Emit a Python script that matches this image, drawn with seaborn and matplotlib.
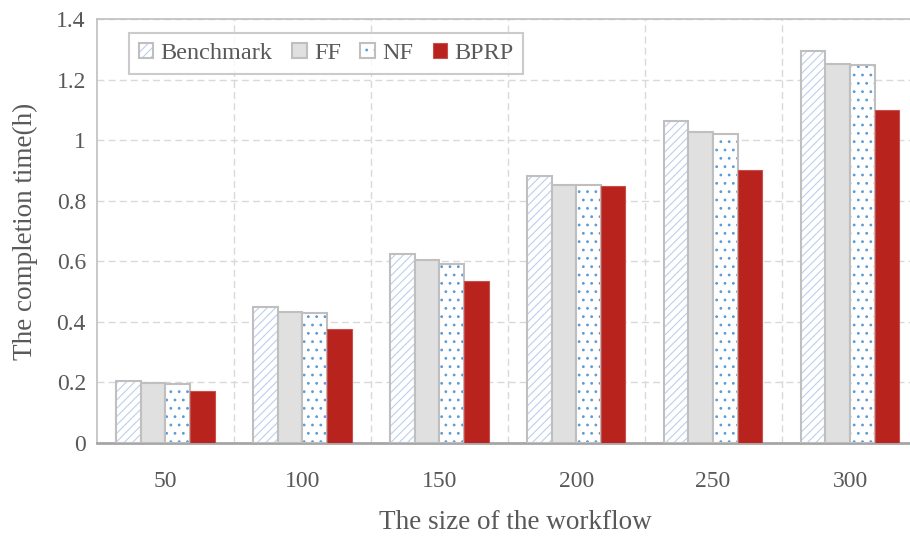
import matplotlib
matplotlib.use("Agg")
import matplotlib.pyplot as plt
import matplotlib.colors as mcolors
import seaborn as sns
import pandas as pd

# Workflow sizes and completion times (hours) for each scheduling method
sizes = ["50", "100", "150", "200", "250", "300"]
methods = ["Benchmark", "FF", "NF", "BPRP"]
benchmark = [0.205, 0.449, 0.624, 0.881, 1.063, 1.294]
ff = [0.198, 0.432, 0.604, 0.852, 1.026, 1.251]
nf = [0.195, 0.429, 0.591, 0.852, 1.020, 1.248]
bprp = [0.172, 0.376, 0.535, 0.850, 0.901, 1.099]
y_ticks = [0, 0.2, 0.4, 0.6, 0.8, 1.0, 1.2, 1.4]
y_tick_labels = ["0", "0.2", "0.4", "0.6", "0.8", "1", "1.2", "1.4"]

series = {"Benchmark": benchmark, "FF": ff, "NF": nf, "BPRP": bprp}
df = pd.DataFrame(
    [(s, m, v) for m in methods for s, v in zip(sizes, series[m])],
    columns=["size", "method", "time"],
)

TEXT = "#595959"
EDGE = "#BFBFBF"
GRID = "#D9D9D9"

sns.set_theme(style="white")
plt.rcParams["font.family"] = ["Liberation Serif", "DejaVu Serif"]
plt.rcParams["hatch.linewidth"] = 0.8

fig = plt.figure(figsize=(9.10, 5.36), dpi=100)
ax = fig.add_axes([97 / 910, 93 / 536, 821.5 / 910, 424 / 536])

# styles per method: face, edge, hatch, hatch colour, edge width
styles = {
    "Benchmark": dict(face="white", edge=EDGE, hatch="////", hcol="#BCCFEC", lw=1.5),
    "FF": dict(face="#E0E0E0", edge=EDGE, hatch=None, hcol=None, lw=1.5),
    "NF": dict(face="white", edge=EDGE, hatch="..", hcol="#5B9BD5", lw=1.5),
    "BPRP": dict(face="#B8231E", edge="#C9504A", hatch=None, hcol=None, lw=0.8),
}

sns.barplot(
    data=df, x="size", y="time", hue="method", order=sizes, hue_order=methods,
    palette=[styles[m]["face"] for m in methods], width=0.72, gap=0,
    errorbar=None, ax=ax, legend=False, zorder=3,
)

for container, m in zip(ax.containers, methods):
    st = styles[m]
    for p in container.patches:
        p.set_facecolor(st["face"])
        p.set_edgecolor(st["edge"])
        p.set_linewidth(st["lw"])
        if st["hatch"]:
            p.set_hatch(st["hatch"])
            p._hatch_color = mcolors.to_rgba(st["hcol"])

ax.set_ylim(0, 1.4)
ax.set_xlim(-0.5, len(sizes) - 0.5)
ax.set_yticks(y_ticks)
ax.set_yticklabels(y_tick_labels)

# dashed gridlines; vertical ones separate the size groups
ax.set_xticks([i + 0.5 for i in range(len(sizes) - 1)], minor=True)
ax.grid(axis="y", which="major", color=GRID, linestyle=(0, (5, 3)), linewidth=1.0, zorder=0)
ax.grid(axis="x", which="minor", color=GRID, linestyle=(0, (5, 3)), linewidth=1.0, zorder=0)
ax.set_axisbelow(True)

ax.tick_params(axis="both", which="both", length=0, labelsize=17, labelcolor=TEXT)
ax.tick_params(axis="x", pad=20)
ax.tick_params(axis="y", pad=8)

ax.set_xlabel("The size of the workflow", fontsize=19.5, color=TEXT, labelpad=13)
ax.set_ylabel("The completion time(h)", fontsize=19.5, color=TEXT, labelpad=13)
ax.xaxis.label.set_x(0.509)

for side in ["left", "top", "right"]:
    ax.spines[side].set_color(EDGE)
    ax.spines[side].set_linewidth(1.2)
ax.spines["bottom"].set_color("#A6A6A6")
ax.spines["bottom"].set_linewidth(2.0)

leg = ax.legend(
    [c.patches[0] for c in ax.containers], methods,
    loc="upper left", bbox_to_anchor=(0.039, 0.967), ncol=4,
    fontsize=17.5, frameon=True, fancybox=False, edgecolor=EDGE,
    handlelength=0.6, handleheight=0.6, handletextpad=0.3,
    columnspacing=0.8, borderpad=0.4, borderaxespad=0,
)
leg.get_frame().set_linewidth(1.5)
for t in leg.get_texts():
    t.set_color(TEXT)

fig.savefig("out.png", dpi=100)
